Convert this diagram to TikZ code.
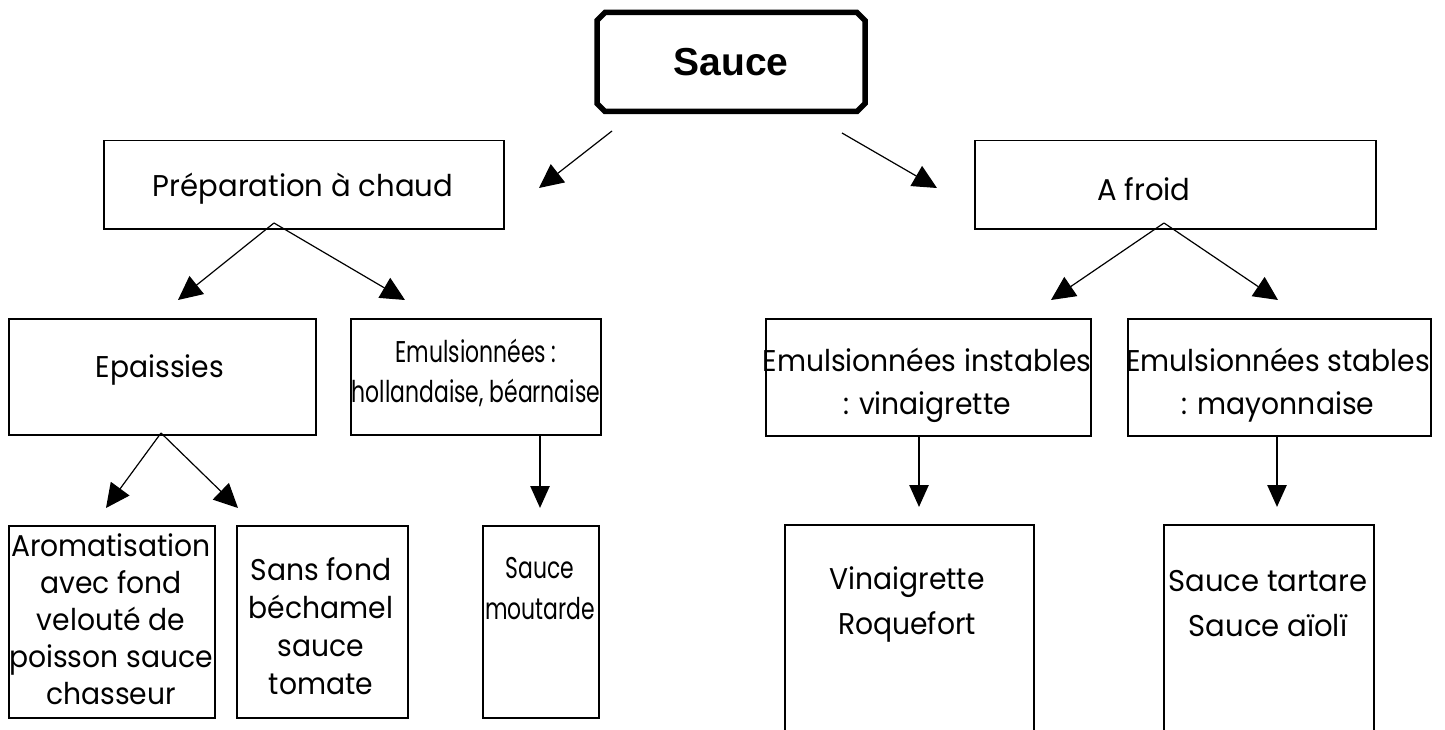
\documentclass[tikz,border=0pt]{standalone}
\usepackage{fontspec}
\setmainfont[FakeStretch=0.94]{Poppins}
\newfontfamily\widefont[FakeStretch=0.97]{Poppins}
\newfontfamily\condfont[FakeStretch=0.73]{Poppins}
\newfontfamily\arialfont{Liberation Sans}
\usetikzlibrary{shapes.misc,arrows.meta}
\begin{document}
\begin{tikzpicture}[x=1pt,y=-1pt,
  box/.style={draw,line width=1.5pt,inner sep=0pt,anchor=north west},
  lbl/.style={font=\fontsize{30}{37}\selectfont,align=center,inner sep=0pt},
  conn/.style={line width=1.2pt,-{Triangle[length=24pt,width=23pt]}},
  vconn/.style={line width=2.6pt,-{Triangle[length=22pt,width=19pt]}}]
\useasboundingbox (0,0) rectangle (1445,730);
% top
\node[draw,line width=5.5pt,chamfered rectangle,chamfered rectangle xsep=4pt,chamfered rectangle ysep=4pt,
  minimum width=268pt,minimum height=99pt,font=\arialfont\bfseries\fontsize{39}{42}\selectfont] (sauce) at (731,62) {Sauce};
% level 1
\node[box,minimum width=400pt,minimum height=88pt] (prep) at (103,140) {};
\node[lbl,font=\widefont\fontsize{30}{37}\selectfont] (preptxt) at (303,189) {Préparation à chaud};
\node[box,minimum width=401pt,minimum height=88pt] (froid) at (974,140) {};
\node[lbl,font=\widefont\fontsize{30}{37}\selectfont] (froidtxt) at (1144,189) {A froid};
% level 2
\node[box,minimum width=307pt,minimum height=116pt] (epa) at (8,318) {};
\node[lbl] (epatxt) at (160,370) {Epaissies};
\node[box,minimum width=250pt,minimum height=116pt] (holl) at (350,318) {};
\node[lbl,font=\condfont\fontsize{30}{40}\selectfont] (holltxt) at (476,373) {Emulsionnées :\\hollandaise, béarnaise};
\node[box,minimum width=325pt,minimum height=117pt] (inst) at (765,318) {};
\node[lbl,font=\fontsize{30}{43}\selectfont] (insttxt) at (927,385) {Emulsionnées instables\\: vinaigrette};
\node[box,minimum width=303pt,minimum height=117pt] (stab) at (1127,318) {};
\node[lbl,font=\fontsize{30}{43}\selectfont] (stabtxt) at (1278,385) {Emulsionnées stables\\: mayonnaise};
% level 3
\node[box,minimum width=206pt,minimum height=192pt] (arom) at (8,525) {};
\node[lbl] (aromtxt) at (111,619) {Aromatisation\\avec fond\\velouté de\\poisson sauce\\chasseur};
\node[box,minimum width=171pt,minimum height=192pt] (sans) at (236,525) {};
\node[lbl,font=\fontsize{30}{38}\selectfont] (sanstxt) at (321,626) {Sans fond\\béchamel\\sauce\\tomate};
\node[box,minimum width=116pt,minimum height=192pt] (mout) at (482,525) {};
\node[lbl,font=\condfont\fontsize{30}{41}\selectfont] (mouttxt) at (540,589) {Sauce\\moutarde};
\node[box,minimum width=249pt,minimum height=230pt] (vina) at (784,524) {};
\node[lbl,font=\fontsize{30}{45}\selectfont] (vinatxt) at (907,604) {Vinaigrette\\Roquefort};
\node[box,minimum width=210pt,minimum height=230pt] (tart) at (1163,524) {};
\node[lbl,font=\widefont\fontsize{30}{45}\selectfont] (tarttxt) at (1268,604) {Sauce tartare\\Sauce aïolï};
% connector coordinates
\coordinate (a1) at (612,131); \coordinate (a1e) at (539,188);
\coordinate (a2) at (842,133); \coordinate (a2e) at (937,188);
\coordinate (p0) at (274,223); \coordinate (p1) at (178,300); \coordinate (p2) at (405,300);
\coordinate (f0) at (1164,223); \coordinate (f1) at (1051,300); \coordinate (f2) at (1278,300);
\coordinate (e0) at (161,433); \coordinate (e1) at (106,508); \coordinate (e2) at (238,508);
\coordinate (h0) at (540,434); \coordinate (h1) at (540,508);
\coordinate (i0) at (919,435); \coordinate (i1) at (919,507);
\coordinate (t0) at (1277,435); \coordinate (t1) at (1277,507);
\draw[conn] (a1) -- (a1e);
\draw[conn] (a2) -- (a2e);
\draw[conn] (p0) -- (p1);
\draw[conn] (p0) -- (p2);
\draw[conn] (f0) -- (f1);
\draw[conn] (f0) -- (f2);
\draw[conn] (e0) -- (e1);
\draw[conn] (e0) -- (e2);
\draw[vconn] (h0) -- (h1);
\draw[vconn] (i0) -- (i1);
\draw[vconn] (t0) -- (t1);
\end{tikzpicture}
\end{document}
